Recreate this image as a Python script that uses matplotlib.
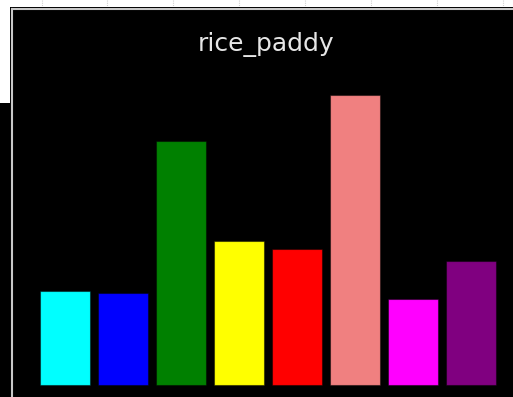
import matplotlib
matplotlib.use("Agg")
import matplotlib.pyplot as plt
from matplotlib.patches import Rectangle
from matplotlib.lines import Line2D

title = "rice_paddy"
categories = ["a", "b", "c", "d", "e", "f", "g", "h"]
values = [94, 92, 244, 144, 136, 290, 86, 124]
colors = ["cyan", "blue", "green", "yellow", "red", "lightcoral", "magenta", "purple"]

W, H = 513, 397
fig = plt.figure(figsize=(W / 100, H / 100), dpi=100)
fig.patch.set_facecolor("white")

def fx(px):
    return px / W

def fy(py):
    return 1 - py / H

# faint grid ticks peeking out above the panel
for gx in [42, 107, 173, 239, 305, 371, 437, 503]:
    fig.add_artist(Line2D([fx(gx), fx(gx)], [fy(0), fy(6)], color="#d0d0d0",
                          lw=0.8, linestyle=(0, (1, 1)), transform=fig.transFigure,
                          zorder=-10))

# dark block on the left edge
fig.add_artist(Rectangle((0, 0), fx(10), fy(103), transform=fig.transFigure,
                         facecolor="black", edgecolor="none", zorder=-10))
# outer dark frame around the panel
fig.add_artist(Rectangle((fx(10), fy(420)), fx(540) - fx(10), fy(7) - fy(420),
                         transform=fig.transFigure, facecolor="black", edgecolor="none",
                         zorder=-10))

L, R, T, B = 12, 520, 9, 402
ax = fig.add_axes([fx(L), fy(B), fx(R) - fx(L), fy(T) - fy(B)])
ax.set_zorder(1)
ax.set_facecolor("black")

x = list(range(len(categories)))
ax.bar(x, values, width=0.86, color=colors, edgecolor=(0, 0, 0, 0.45), linewidth=0.8)

pitch = 58.0
x0 = 65.0
ax.set_xlim((L - x0) / pitch, (R - x0) / pitch)
base = 385
ax.set_ylim(-(B - base), base - T)

ax.set_xticks([])
ax.set_yticks([])
for s in ax.spines.values():
    s.set_color("#c8c8c8")
    s.set_linewidth(1.5)

fig.text(fx(266), fy(44.5), title, ha="center", va="center",
         color="#e6e6e6", fontsize=18, family="DejaVu Sans", zorder=5)

fig.savefig("out.png", dpi=100, facecolor="white")
